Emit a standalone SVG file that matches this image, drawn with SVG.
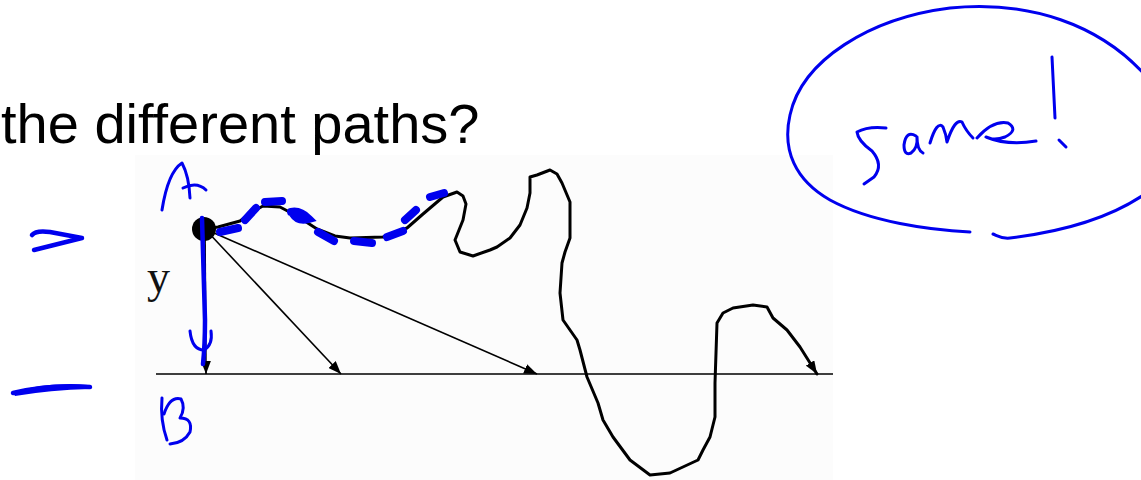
<svg xmlns="http://www.w3.org/2000/svg" width="1141" height="480" viewBox="0 0 1141 480">
<style>
.ink{fill:none;stroke:#0000ee;stroke-linecap:round;stroke-linejoin:round;stroke-width:3}
.ink4{fill:none;stroke:#0000ee;stroke-linecap:round;stroke-linejoin:round;stroke-width:4.5}
.dash{fill:none;stroke:#0000ee;stroke-linecap:round;stroke-width:8}
.arr{fill:none;stroke:#000;stroke-width:1.6}
.title{font-family:"Liberation Sans",Arial,sans-serif;font-size:56px;fill:#000}
.lbl{font-family:"Liberation Serif","Times New Roman",serif;font-size:46px;fill:#111}
</style>
<defs>
<marker id="ah" markerUnits="userSpaceOnUse" markerWidth="14" markerHeight="10" refX="13" refY="5" orient="auto">
<path d="M0,0 L13,5 L0,10 Z" fill="#000"/>
</marker>
</defs>
<rect width="1141" height="480" fill="#fff"/>
<rect x="135" y="155" width="698" height="325" fill="#fcfcfc"/>
<g id="title"><text class="title" x="1" y="143">the different paths?</text></g>
<g id="baseline"><line x1="156" y1="374" x2="833" y2="374" stroke="#000" stroke-width="1.6"/></g>
<g id="connectors">
<path class="arr" d="M205,229 L206,374" marker-end="url(#ah)"/>
<path class="arr" d="M205,229 L341,374" marker-end="url(#ah)"/>
<path class="arr" d="M205,229 L537,374" marker-end="url(#ah)"/>
<polyline fill="none" stroke="#000" stroke-width="3" stroke-linejoin="round" stroke-linecap="round" marker-end="url(#ah)" points="205,229 218,227 240,221 252,212 263,206 280,207 297,216 317,229 335,236 350,238 383,237 407,228 423,214 443,197 457,192 463,196 466,204 463,220 455,240 460,252 473,256 490,250 497,247 510,238 520,225 527,208 530,193 530,177 537,175 550,170 557,174 562,183 570,202 570,238 565,252 562,263 560,293 563,320 570,330 577,340 580,350 587,377 598,403 603,420 613,437 630,460 650,475 670,473 698,460 703,450 710,437 715,417 715,383 717,323 723,313 733,308 753,305 767,307 773,318 787,330 800,347 817,374"/>
</g>
<g id="nodeA"><circle cx="204" cy="229" r="12" fill="#000"/></g>
<g id="ylabel"><text class="lbl" x="147" y="292">y</text></g>
<g id="annotations">
<path class="ink" d="M162,210 Q168,172 182,163 Q189,176 190,198"/>
<path class="ink" d="M183,188 Q197,181 206,190"/>
<path class="ink4" d="M202,218 Q204,290 205,320 Q205,345 203,364"/>
<path class="ink" d="M190,331 Q192,350 204,350 Q213,345 211,331"/>
<path class="ink" d="M162,398 Q160,420 167,440"/>
<path class="ink" d="M164,414 Q170,396 181,399 Q186,408 180,418 Q193,418 190,432 Q184,443 170,444"/>
<path class="ink4" d="M32,235 Q36,230 50,232 L82,238 L34,250"/>
<path fill="#0000ee" d="M13,393 Q40,382 88,385 L90,389 Q50,390 15,396 Z"/>
<path class="ink4" d="M13,393 Q50,384 90,387"/>
<path class="dash" d="M220,232 L238,228"/>
<path class="dash" d="M245,220 L256,208"/>
<path class="dash" d="M265,202 L282,201"/>
<path class="dash" d="M291,212 Q300,210 309,219 Q298,222 293,214"/>
<path class="dash" d="M318,232 L334,241"/>
<path class="dash" d="M354,241 L372,243"/>
<path class="dash" d="M387,237 L403,231"/>
<path class="dash" d="M405,220 L416,210"/>
<path class="dash" d="M430,197 L444,193"/>
</g>
<g id="sameBubble">
<path class="ink" d="M970,232 C930,230 870,222 830,200 C795,180 782,150 790,115 C802,60 870,18 950,8 C1030,0 1100,25 1145,75"/>
<path class="ink" d="M993,234 C998,236 1002,239 1010,238 C1060,232 1110,218 1145,194"/>
<path class="ink" d="M886,128 Q868,126 857,132 Q858,141 872,151 Q884,165 874,177 L864,184"/>
<path class="ink" d="M916,136 Q906,130 904,145 Q904,156 911,153 Q918,148 917,137 Q917,150 923,153"/>
<path class="ink" d="M930,143 Q937,120 943,127 Q946,134 947,142 Q955,118 962,122 Q966,131 973,138"/>
<path class="ink" d="M977,138 Q993,120 1008,123 Q1019,130 1005,137 Q994,141 986,137 Q1008,146 1036,141"/>
<path class="ink" d="M1052,57 L1055,118"/>
<path class="ink" d="M1059,140 L1066,147"/>
</g>
</svg>
